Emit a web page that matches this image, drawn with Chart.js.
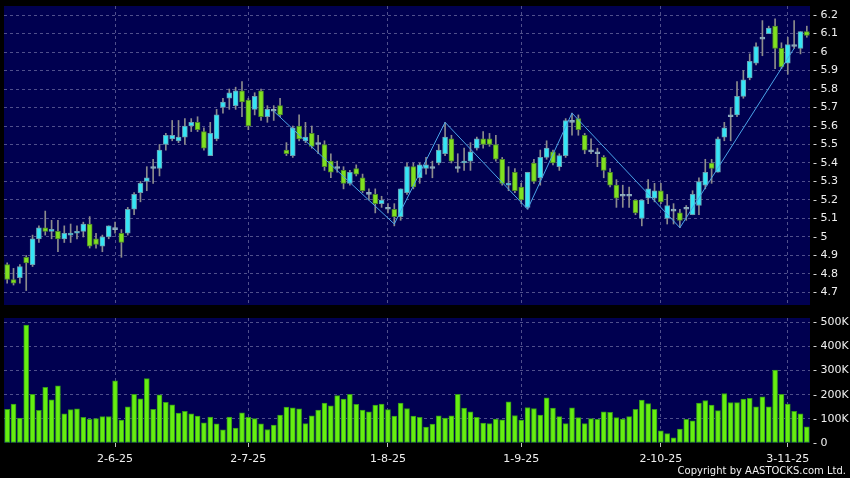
<!DOCTYPE html>
<html>
<head>
<meta charset="utf-8">
<script src="https://cdn.jsdelivr.net/npm/chart.js@4.4.1/dist/chart.umd.min.js"></script>
<style>
  html, body { margin: 0; padding: 0; background: #000; }
  #wrap { position: relative; width: 850px; height: 478px; background: #000; overflow: hidden; }
  #price { position: absolute; left: 0; top: 0; }
  #vol { position: absolute; left: 0; top: 312px; }
  #copy { position: absolute; right: 4px; top: 465px; color: #f0f0f0; font: 10px "DejaVu Sans"; white-space: nowrap; }
</style>
</head>
<body>
<div id="wrap">
  <canvas id="price" width="850" height="312"></canvas>
  <canvas id="vol" width="850" height="166"></canvas>
  <div id="copy">Copyright by AASTOCKS.com Ltd.</div>
</div>
<script>
const dates = [
  '8-5-25','9-5-25','12-5-25','13-5-25','14-5-25','15-5-25','16-5-25','19-5-25','20-5-25','21-5-25',
  '22-5-25','23-5-25','26-5-25','27-5-25','28-5-25','29-5-25','30-5-25',
  '2-6-25','3-6-25','4-6-25','5-6-25','6-6-25','9-6-25','10-6-25','11-6-25','12-6-25','13-6-25',
  '16-6-25','17-6-25','18-6-25','19-6-25','20-6-25','23-6-25','24-6-25','25-6-25','26-6-25','27-6-25','30-6-25',
  '2-7-25','3-7-25','4-7-25','7-7-25','8-7-25','9-7-25','10-7-25','11-7-25','14-7-25','15-7-25','16-7-25',
  '17-7-25','18-7-25','21-7-25','22-7-25','23-7-25','24-7-25','25-7-25','28-7-25','29-7-25','30-7-25','31-7-25',
  '1-8-25','4-8-25','5-8-25','6-8-25','7-8-25','8-8-25','11-8-25','12-8-25','13-8-25','14-8-25','15-8-25',
  '18-8-25','19-8-25','20-8-25','21-8-25','22-8-25','25-8-25','26-8-25','27-8-25','28-8-25','29-8-25',
  '1-9-25','2-9-25','3-9-25','4-9-25','5-9-25','8-9-25','9-9-25','10-9-25','11-9-25','12-9-25','15-9-25',
  '16-9-25','17-9-25','18-9-25','19-9-25','22-9-25','23-9-25','24-9-25','25-9-25','26-9-25','29-9-25','30-9-25',
  '2-10-25','3-10-25','6-10-25','8-10-25','9-10-25','10-10-25','13-10-25','14-10-25','15-10-25','16-10-25',
  '17-10-25','20-10-25','21-10-25','22-10-25','23-10-25','24-10-25','27-10-25','28-10-25','30-10-25','31-10-25',
  '3-11-25','4-11-25','5-11-25','6-11-25'
];
const tickLabels = ['2-6-25', '2-7-25', '1-8-25', '1-9-25', '2-10-25', '3-11-25'];
const priceTicks = [4.7, 4.8, 4.9, 5, 5.1, 5.2, 5.3, 5.4, 5.5, 5.6, 5.7, 5.8, 5.9, 6, 6.1, 6.2];
const volumeTicks = [0, 100000, 200000, 300000, 400000, 500000];

const open = [
  4.85,4.77,4.78,4.89,4.85,4.99,5.05,5.03,5.03,4.99, 5.01,5.02,5.03,5.07,4.99,4.95,5.00,5.04,5.02,5.02,
  5.15,5.24,5.30,5.37,5.37,5.50,5.53,5.52,5.54,5.60, 5.62,5.57,5.44,5.53,5.70,5.75,5.71,5.79,5.74,5.69,
  5.79,5.65,5.68,5.71,5.47,5.44,5.60,5.52,5.56,5.50, 5.50,5.41,5.37,5.36,5.29,5.37,5.32,5.23,5.23,5.18,
  5.15,5.15,5.11,5.24,5.38,5.32,5.37,5.37,5.40,5.45, 5.53,5.37,5.40,5.41,5.48,5.53,5.53,5.50,5.42,5.28,
  5.35,5.27,5.16,5.40,5.32,5.43,5.46,5.38,5.44,5.62, 5.64,5.55,5.46,5.45,5.43,5.35,5.28,5.22,5.22,5.20,
  5.10,5.21,5.21,5.25,5.10,5.14,5.13,5.15,5.12,5.17, 5.28,5.40,5.35,5.54,5.65,5.66,5.76,5.86,5.94,6.07,
  6.10,6.14,6.02,5.94,6.03,6.02,6.11
];
const high = [
  4.86,4.83,4.85,4.90,5.01,5.06,5.14,5.09,5.09,5.06, 5.07,5.06,5.08,5.11,5.02,5.01,5.06,5.08,5.04,5.16,
  5.24,5.30,5.38,5.42,5.50,5.56,5.63,5.63,5.64,5.64, 5.65,5.59,5.62,5.69,5.75,5.80,5.81,5.84,5.75,5.78,
  5.80,5.71,5.71,5.75,5.51,5.60,5.66,5.62,5.60,5.55, 5.52,5.45,5.41,5.38,5.36,5.39,5.34,5.26,5.26,5.22,
  5.18,5.18,5.26,5.40,5.40,5.40,5.43,5.41,5.50,5.62, 5.55,5.45,5.48,5.51,5.54,5.57,5.56,5.55,5.43,5.38,
  5.37,5.29,5.35,5.42,5.47,5.52,5.47,5.45,5.64,5.67, 5.66,5.56,5.53,5.48,5.44,5.37,5.31,5.28,5.27,5.20,
  5.20,5.31,5.29,5.29,5.23,5.18,5.15,5.17,5.25,5.32, 5.42,5.42,5.54,5.62,5.70,5.84,5.90,5.99,6.05,6.17,
  6.14,6.18,6.05,6.08,6.17,6.11,6.14
];
const low = [
  4.75,4.74,4.75,4.71,4.84,4.97,5.01,4.99,4.92,4.97, 4.97,4.99,5.00,4.94,4.94,4.92,4.99,5.02,4.89,5.01,
  5.12,5.19,5.25,5.29,5.33,5.47,5.52,5.51,5.50,5.57, 5.57,5.47,5.44,5.52,5.67,5.69,5.69,5.65,5.58,5.66,
  5.63,5.62,5.63,5.65,5.44,5.43,5.52,5.51,5.48,5.45, 5.36,5.32,5.35,5.26,5.28,5.33,5.24,5.20,5.13,5.16,
  5.13,5.06,5.09,5.23,5.26,5.29,5.34,5.32,5.39,5.44, 5.40,5.35,5.36,5.36,5.47,5.48,5.49,5.41,5.28,5.25,
  5.24,5.18,5.15,5.29,5.28,5.42,5.39,5.36,5.43,5.55, 5.55,5.45,5.45,5.38,5.32,5.27,5.16,5.16,5.16,5.12,
  5.06,5.18,5.19,5.18,5.07,5.07,5.05,5.09,5.12,5.12, 5.26,5.29,5.35,5.52,5.52,5.65,5.75,5.85,5.93,5.98,
  6.10,5.91,5.91,5.88,6.02,5.99,6.08
];
const close = [
  4.77,4.75,4.84,4.86,4.99,5.05,5.03,5.04,4.99,5.02, 5.02,5.03,5.07,4.95,4.96,5.00,5.06,5.04,4.97,5.15,
  5.23,5.29,5.32,5.37,5.47,5.55,5.55,5.54,5.60,5.62, 5.58,5.48,5.56,5.66,5.73,5.78,5.79,5.73,5.60,5.76,
  5.65,5.69,5.68,5.66,5.45,5.59,5.53,5.54,5.49,5.50, 5.38,5.35,5.37,5.29,5.35,5.34,5.25,5.23,5.18,5.20,
  5.15,5.11,5.26,5.38,5.27,5.39,5.39,5.37,5.47,5.54, 5.41,5.37,5.41,5.46,5.53,5.50,5.50,5.42,5.29,5.29,
  5.25,5.20,5.35,5.30,5.43,5.48,5.40,5.44,5.63,5.62, 5.58,5.47,5.46,5.45,5.36,5.28,5.21,5.22,5.22,5.13,
  5.20,5.26,5.25,5.19,5.17,5.14,5.09,5.15,5.23,5.30, 5.35,5.37,5.53,5.59,5.65,5.76,5.85,5.95,6.03,6.07,
  6.13,6.02,5.92,6.04,6.03,6.11,6.09
];
const volume = [
  140000,161000,103000,489000,202000,135000,231000,179000,237000,121000,
  138000,142000,106000,98000,101000,109000,110000,258000,95000,150000,
  202000,183000,267000,140000,200000,169000,158000,124000,131000,121000,
  112000,84000,107000,79000,55000,107000,62000,125000,106000,101000,
  79000,56000,74000,116000,149000,146000,142000,80000,113000,136000,
  165000,154000,196000,182000,202000,160000,136000,129000,157000,161000,
  138000,112000,165000,143000,112000,106000,66000,78000,113000,103000,
  113000,202000,145000,129000,106000,83000,80000,99000,96000,171000,
  114000,95000,147000,143000,116000,187000,145000,109000,80000,146000,
  105000,80000,101000,98000,129000,127000,105000,99000,109000,140000,
  178000,163000,140000,50000,39000,21000,58000,98000,92000,165000,
  176000,157000,134000,205000,168000,167000,182000,185000,150000,191000,
  150000,302000,202000,161000,131000,121000,67000
];
// zigzag pivots (index, price)
const zigzagIdx = [42, 61, 69, 82, 89, 106, 124];
const zigzagVal = [5.68, 5.07, 5.62, 5.15, 5.67, 5.05, 6.02];

const NAVY = '#000050';
const GRID = '#50508c';
const UP = '#35e5f5', UP_EDGE = '#6a9fb2';
const DOWN = '#80e020', DOWN_EDGE = '#4e8a28';
const FLAT = '#8fb0c0';
const FONT = { family: 'DejaVu Sans', size: 11 };

const navyBg = {
  id: 'navyBg',
  beforeDraw(chart) {
    const { ctx, chartArea: a } = chart;
    ctx.save();
    ctx.fillStyle = NAVY;
    ctx.fillRect(a.left, a.top, a.right - a.left, a.bottom - a.top);
    ctx.restore();
  }
};

// the library reserves room for half a label above/below; the chart area is set by layout padding only
function noLabelPad(s) {
  s.paddingTop = 0;
  s.paddingBottom = 0;
  s.paddingLeft = 0;
  s.paddingRight = 0;
}

function xAxis(showLabels) {
  return {
    type: 'category',
    offset: true,
    grid: {
      offset: false,
      color: c => tickLabels.includes(dates[c.index]) ? GRID : 'transparent',
      tickColor: c => tickLabels.includes(dates[c.index]) ? '#c0c0c0' : 'transparent',
      drawTicks: showLabels,
      tickLength: 4
    },
    border: { display: false, dash: [3, 3] },
    ticks: {
      display: showLabels,
      autoSkip: false,
      maxRotation: 0,
      minRotation: 0,
      padding: 6,
      color: '#f0f0f0',
      font: FONT,
      callback(v) {
        const l = this.getLabelForValue(v);
        return tickLabels.includes(l) ? l : '';
      }
    },
    afterFit: s => { s.height = showLabels ? 35 : 0; noLabelPad(s); }
  };
}

const dir = i => close[i] > open[i] ? 1 : (close[i] < open[i] ? -1 : 0);

new Chart(document.getElementById('price'), {
  type: 'bar',
  data: {
    labels: dates,
    datasets: [
      {
        type: 'line',
        data: dates.map((d, i) => {
          const k = zigzagIdx.indexOf(i);
          return k >= 0 ? zigzagVal[k] : null;
        }),
        borderColor: '#4aa3e8',
        borderWidth: 1,
        pointRadius: 0,
        spanGaps: true,
        tension: 0,
        order: 0
      },
      {
        data: open.map((o, i) => [o, close[i]]),
        backgroundColor: open.map((o, i) => dir(i) > 0 ? UP : dir(i) < 0 ? DOWN : FLAT),
        borderColor: open.map((o, i) => dir(i) > 0 ? UP_EDGE : dir(i) < 0 ? DOWN_EDGE : FLAT),
        borderWidth: 1,
        borderSkipped: false,
        barThickness: 5,
        minBarLength: 2,
        grouped: false,
        order: 1
      },
      {
        data: low.map((l, i) => [l, high[i]]),
        backgroundColor: '#8c8c8c',
        borderWidth: 0,
        barThickness: 1,
        grouped: false,
        order: 2
      }
    ]
  },
  options: {
    responsive: false,
    animation: false,
    events: [],
    layout: { padding: { top: 6, left: 4, right: 0, bottom: 7 } },
    plugins: { legend: { display: false }, tooltip: { enabled: false } },
    scales: {
      x: xAxis(false),
      y: {
        position: 'right',
        min: 4.632,
        max: 6.249,
        afterBuildTicks: s => { s.ticks = priceTicks.map(v => ({ value: v })); },
        afterFit: s => { s.width = 40; noLabelPad(s); },
        grid: { color: GRID, drawTicks: false },
        border: { display: false, dash: [3, 3] },
        ticks: { color: '#f0f0f0', font: FONT, padding: 3, callback: v => '- ' + v }
      }
    }
  },
  plugins: [navyBg]
});

new Chart(document.getElementById('vol'), {
  type: 'bar',
  data: {
    labels: dates,
    datasets: [{
      data: volume,
      backgroundColor: '#66ee11',
      borderColor: '#33991a',
      borderWidth: 1,
      borderSkipped: false,
      barThickness: 5
    }]
  },
  options: {
    responsive: false,
    animation: false,
    events: [],
    layout: { padding: { top: 6, left: 4, right: 0, bottom: 0 } },
    plugins: { legend: { display: false }, tooltip: { enabled: false } },
    scales: {
      x: xAxis(true),
      y: {
        position: 'right',
        min: 0,
        max: 518000,
        afterBuildTicks: s => { s.ticks = volumeTicks.map(v => ({ value: v })); },
        afterFit: s => { s.width = 40; noLabelPad(s); },
        grid: { color: c => c.tick && c.tick.value === 0 ? 'transparent' : GRID, drawTicks: false },
        border: { display: false, dash: [3, 3] },
        ticks: {
          color: '#f0f0f0', font: FONT, padding: 3,
          callback: v => v === 0 ? '- 0' : '- ' + (v / 1000) + 'K'
        }
      }
    }
  },
  plugins: [navyBg]
});
</script>
</body>
</html>
